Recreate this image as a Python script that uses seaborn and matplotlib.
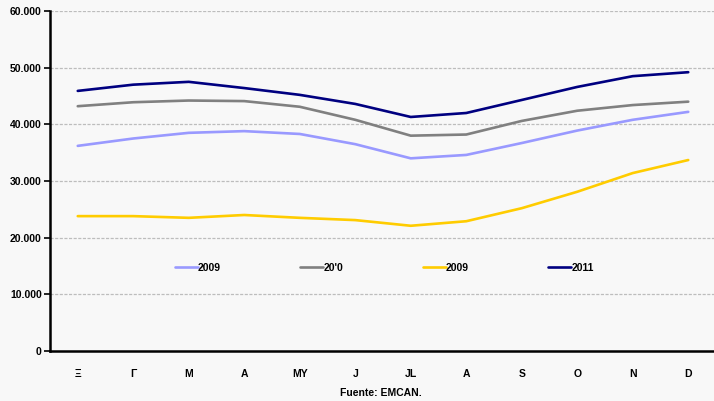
import matplotlib
matplotlib.use("Agg")
import matplotlib.pyplot as plt
import seaborn as sns
import pandas as pd
import numpy as np
from matplotlib.ticker import FixedLocator, FuncFormatter

months = ["Ξ", "Γ", "M", "A", "MY", "J", "JL", "A", "S", "O", "N", "D"]
labels = ["2009", "20'0", "2009", "2011"]
colors = ["#9999ff", "#808080", "#ffcc00", "#000080"]

s2009 = [36200, 37500, 38500, 38800, 38300, 36500, 34000, 34600, 36700, 38900, 40800, 42200]
s2010 = [43200, 43900, 44200, 44100, 43100, 40800, 38000, 38200, 40600, 42400, 43400, 44000]
s2008 = [23800, 23800, 23500, 24000, 23500, 23100, 22100, 22900, 25200, 28100, 31400, 33700]
s2011 = [45900, 47000, 47500, 46400, 45200, 43600, 41300, 42000, 44300, 46600, 48500, 49200]
series = [s2009, s2010, s2008, s2011]

sns.set_theme(style="white")
plt.rcParams["font.family"] = ["Liberation Sans", "DejaVu Sans"]
plt.rcParams["text.color"] = "black"
plt.rcParams["xtick.color"] = "black"
plt.rcParams["ytick.color"] = "black"

bg = "#f8f8f8"
fig = plt.figure(figsize=(7.14, 4.01), dpi=100, facecolor=bg)
ax = fig.add_axes([50 / 714, 1 - 351 / 401, 666 / 714, 340 / 401])
ax.set_facecolor(bg)

x = np.arange(len(months))
for lab, col, vals in zip(labels, colors, series):
    df = pd.DataFrame({"x": x, "y": vals})
    sns.lineplot(data=df, x="x", y="y", ax=ax, color=col, linewidth=1.9,
                 label=lab, sort=False)

ax.set_xlim(-0.5, 11.5)
ax.set_ylim(0, 60000)
ax.set_xlabel("")
ax.set_ylabel("")

ax.yaxis.set_major_locator(FixedLocator(np.arange(0, 60001, 10000)))
ax.yaxis.set_major_formatter(FuncFormatter(lambda v, p: "0" if v == 0 else f"{int(v/1000)}.000"))
ax.set_xticks(x)
ax.set_xticklabels(months)
ax.set_xticks(np.arange(-0.5, 12, 1), minor=True)

ax.tick_params(axis="x", which="major", length=0, pad=13, labelsize=7.5, labelcolor="black")
ax.tick_params(axis="x", which="minor", length=4, width=1.2, color="black", direction="out")
ax.tick_params(axis="y", which="major", length=4, width=1.2, color="black", direction="out",
               pad=2, labelsize=7.5, left=True, labelcolor="black")
for t in ax.get_xticklabels() + ax.get_yticklabels():
    t.set_fontweight("bold")

for y in np.arange(10000, 60001, 10000):
    ax.axhline(y, color="#bdbdbd", linewidth=0.9, linestyle=(0, (2.5, 1.2)), zorder=0)

for side in ["top", "right"]:
    ax.spines[side].set_visible(False)
for side in ["left", "bottom"]:
    ax.spines[side].set_color("black")
    ax.spines[side].set_linewidth(1.8)

leg = ax.legend(loc="center", bbox_to_anchor=(0.502, 0.244), ncol=4, frameon=False,
                fontsize=7.5, handlelength=2.2, handletextpad=0.05, columnspacing=7.6)
for t in leg.get_texts():
    t.set_fontweight("bold")
    t.set_color("black")

fig.text(381 / 714, 1 - 393 / 401, "Fuente: EMCAN.", ha="center", va="center",
         fontsize=7.5, fontweight="bold", color="black")

fig.savefig("out.png", dpi=100, facecolor=bg)
